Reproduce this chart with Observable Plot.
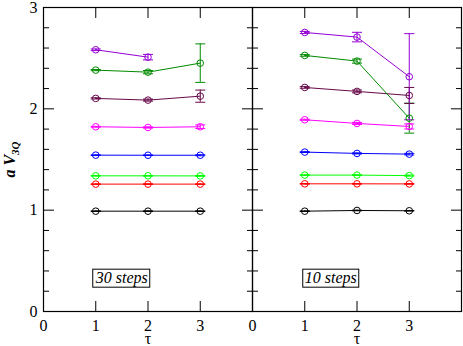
<!DOCTYPE html>
<html><head><meta charset="utf-8">
<script src="https://cdn.jsdelivr.net/npm/d3@7"></script>
<script src="https://cdn.jsdelivr.net/npm/@observablehq/plot@0.6"></script>
<style>body{margin:0;background:#fff}</style>
</head><body><div id="chart"></div>
<script>
const panels = ["30 steps", "10 steps"];
const taus = [1, 2, 3];
const seriesNames = ["black", "red", "green", "blue", "magenta", "maroon", "green4", "violet"];
const seriesColors = ["#000000", "#ff0000", "#00ff00", "#0000ff", "#ff00ff", "#670748", "#008b00", "#9400d3"];

// a V_3Q values, 30 steps (rows: series, columns: tau 1,2,3)
const values30 = [
  [0.990, 0.990, 0.990],
  [1.257, 1.257, 1.257],
  [1.339, 1.339, 1.338],
  [1.543, 1.542, 1.542],
  [1.823, 1.816, 1.823],
  [2.103, 2.086, 2.125],
  [2.382, 2.362, 2.451],
  [2.583, 2.510, null]
];
const errors30 = [
  [0.003, 0.003, 0.003],
  [0.003, 0.003, 0.003],
  [0.003, 0.003, 0.004],
  [0.003, 0.003, 0.005],
  [0.004, 0.006, 0.018],
  [0.006, 0.010, 0.060],
  [0.006, 0.016, 0.190],
  [0.008, 0.027, null]
];
// a V_3Q values, 10 steps
const values10 = [
  [0.990, 0.997, 0.994],
  [1.260, 1.260, 1.259],
  [1.346, 1.346, 1.341],
  [1.573, 1.560, 1.553],
  [1.892, 1.856, 1.826],
  [2.211, 2.172, 2.132],
  [2.527, 2.471, 1.908],
  [2.754, 2.708, 2.317]
];
const errors10 = [
  [0.003, 0.003, 0.003],
  [0.003, 0.003, 0.004],
  [0.003, 0.003, 0.005],
  [0.004, 0.005, 0.008],
  [0.005, 0.010, 0.025],
  [0.008, 0.014, 0.079],
  [0.008, 0.020, 0.148],
  [0.010, 0.047, 0.425]
];

const yLabelTicks = [0, 1, 2, 3];
const yMajorTicks = [1, 2];
const yMinorTicks = [0.2, 0.4, 0.6, 0.8, 1.2, 1.4, 1.6, 1.8, 2.2, 2.4, 2.6, 2.8];
const xLabelTicks = [0, 1, 2, 3];
const xMajorTicks = [1, 2, 3];
const xTitle = "τ";
const yTitle = "a V3Q";

const rows = [];
[[values30, errors30], [values10, errors10]].forEach(([vals, errs], p) => {
  vals.forEach((row, s) => row.forEach((v, i) => {
    if (v == null) return;
    rows.push({panel: panels[p], series: seriesNames[s], tau: taus[i], v, e: errs[s][i]});
  }));
});

const capSymbol = {
  draw(context, size) {
    const w = Math.sqrt(size / Math.PI);
    context.moveTo(-w, 0);
    context.lineTo(w, 0);
  }
};

const serif = "Liberation Serif";
const tickAxis = (fn, anchor, ticks, size) => fn({anchor, ticks, tickSize: size, fill: "none", label: null, facetAnchor: null, strokeWidth: 1});

const chart = Plot.plot({
  width: 463,
  height: 346,
  marginLeft: 42,
  marginRight: 2,
  marginTop: 7,
  marginBottom: 35,
  fx: {domain: panels, padding: 0, axis: null},
  x: {domain: [0, 4]},
  y: {domain: [0, 3]},
  color: {domain: seriesNames, range: seriesColors},
  style: {background: "white", color: "black"},
  marks: [
    // error bars
    Plot.ruleX(rows, {fx: "panel", x: "tau", y1: d => d.v - d.e, y2: d => d.v + d.e, stroke: "series", strokeWidth: 1}),
    Plot.dot(rows, {fx: "panel", x: "tau", y: d => d.v + d.e, symbol: capSymbol, r: 5, stroke: "series", strokeWidth: 1}),
    Plot.dot(rows, {fx: "panel", x: "tau", y: d => d.v - d.e, symbol: capSymbol, r: 5, stroke: "series", strokeWidth: 1}),
    // lines and symbols
    Plot.line(rows, {fx: "panel", x: "tau", y: "v", z: "series", stroke: "series", strokeWidth: 1}),
    Plot.dot(rows, {fx: "panel", x: "tau", y: "v", r: 3.3, stroke: "series", fill: "none", strokeWidth: 1}),
    // panel annotations
    Plot.text(panels, {fx: d => d, x: 1, y: 0.33, text: d => d, textAnchor: "start", fontStyle: "italic", fontSize: 16}),
    // x title under each panel
    Plot.text(panels, {fx: d => d, x: 2, frameAnchor: "bottom", lineAnchor: "bottom", dy: 32, text: () => xTitle, fontSize: 16}),
    // axes
    Plot.axisY({anchor: "left", ticks: yLabelTicks, tickFormat: d => String(d), tickSize: 0, tickPadding: 6, fontSize: 16,
      label: yTitle, labelAnchor: "center", labelArrow: "none", labelOffset: 40}),
    tickAxis(Plot.axisY, "left", yMajorTicks, -11),
    tickAxis(Plot.axisY, "right", yMajorTicks, -11),
    tickAxis(Plot.axisY, "left", yMinorTicks, -6),
    tickAxis(Plot.axisY, "right", yMinorTicks, -6),
    Plot.axisX({anchor: "bottom", ticks: xLabelTicks, tickFormat: d => String(d), tickSize: 0, tickPadding: 8, fontSize: 16,
      label: null, facetAnchor: null}),
    tickAxis(Plot.axisX, "bottom", xMajorTicks, -10),
    tickAxis(Plot.axisX, "top", xMajorTicks, -10),
    Plot.frame({stroke: "black", strokeWidth: 1.2})
  ]
});

document.getElementById("chart").appendChild(chart);

// serif font on every text element
chart.querySelectorAll("text").forEach(t => {
  t.setAttribute("font-family", serif);
  t.style.fontFamily = serif;
});
chart.style.fontFamily = serif;

// boxes around panel annotations
chart.querySelectorAll('g[aria-label="text"] text').forEach(t => {
  if (t.textContent === xTitle) return;
  const bb = t.getBBox();
  const r = document.createElementNS("http://www.w3.org/2000/svg", "rect");
  r.setAttribute("x", bb.x - 2);
  r.setAttribute("y", bb.y);
  r.setAttribute("width", bb.width + 4);
  r.setAttribute("height", bb.height);
  r.setAttribute("fill", "white");
  r.setAttribute("stroke", "black");
  r.setAttribute("stroke-width", 1);
  if (t.getAttribute("transform")) r.setAttribute("transform", t.getAttribute("transform"));
  t.parentNode.insertBefore(r, t);
});

// y label with subscript
const yl = chart.querySelector('g[aria-label="y-axis label"] text');
if (yl) {
  yl.textContent = "";
  yl.setAttribute("font-weight", "bold");
  yl.setAttribute("font-style", "italic");
  yl.setAttribute("font-size", "16");
  const a = document.createElementNS("http://www.w3.org/2000/svg", "tspan");
  a.textContent = "a V";
  const b = document.createElementNS("http://www.w3.org/2000/svg", "tspan");
  b.textContent = "3Q";
  b.setAttribute("font-size", "11");
  b.setAttribute("dy", "4");
  yl.appendChild(a);
  yl.appendChild(b);
}
</script>
</body></html>
